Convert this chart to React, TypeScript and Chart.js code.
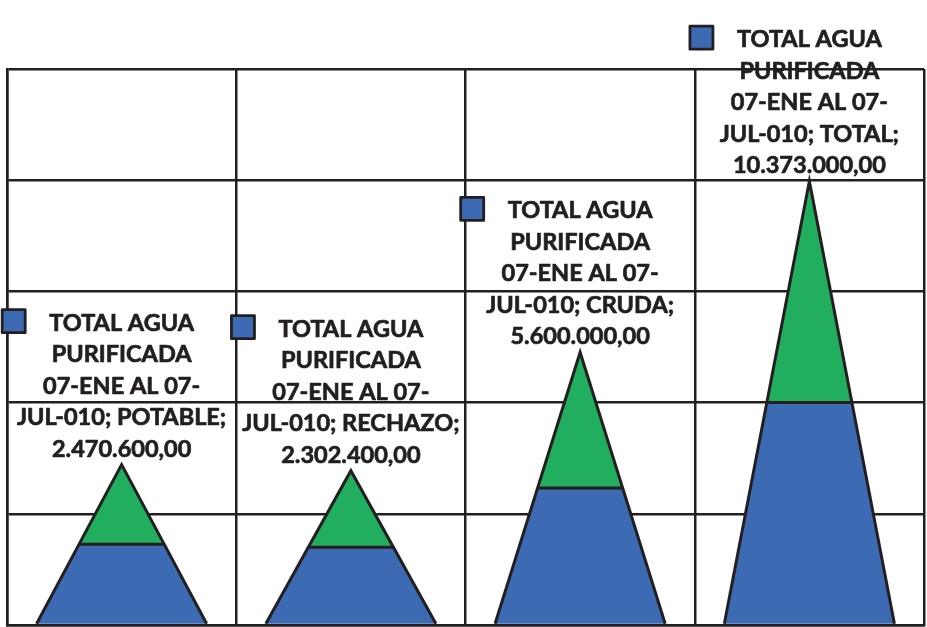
import React, { useEffect, useRef } from 'react';
import { Chart, registerables } from 'chart.js';

Chart.register(...registerables);

// ---- data ----
const categories = ['POTABLE', 'RECHAZO', 'CRUDA', 'TOTAL'];
const seriesNameLines = ['TOTAL AGUA', 'PURIFICADA', '07-ENE AL 07-', 'JUL-010;'];
const values = [2470600, 2302400, 5600000, 10373000];
const axisMin = -2000000;
const axisMax = 13500000;
const axisStep = 3100000;

// ---- style ----
const BLUE = '#3c6bb3';
const GREEN = '#22ae5f';
const INK = '#231f20';
const FONT_FAMILY = 'Lato, "Open Sans", sans-serif';
const FONT = `bold 23.5px ${FONT_FAMILY}`;
const LINE_H = 31.5;

function fmt(v: number): string {
  const s = Math.round(v).toString().replace(/\B(?=(\d{3})+(?!\d))/g, '.');
  return s + ',00';
}

const pyramidPlugin = {
  id: 'pyramids',
  afterDatasetsDraw(chart: any) {
    const meta = chart.getDatasetMeta(0);
    const ctx = chart.ctx;
    meta.data.forEach((bar: any) => {
      const { x, y, base, width } = bar.getProps(['x', 'y', 'base', 'width'], true);
      const half = width / 2;
      const midY = (y + base) / 2;
      const midHalf = half / 2;
      ctx.save();
      ctx.beginPath();
      ctx.moveTo(x - half, base);
      ctx.lineTo(x + half, base);
      ctx.lineTo(x + midHalf, midY);
      ctx.lineTo(x - midHalf, midY);
      ctx.closePath();
      ctx.fillStyle = BLUE;
      ctx.fill();
      ctx.beginPath();
      ctx.moveTo(x - midHalf, midY);
      ctx.lineTo(x + midHalf, midY);
      ctx.lineTo(x, y);
      ctx.closePath();
      ctx.fillStyle = GREEN;
      ctx.fill();
      ctx.lineWidth = 3;
      ctx.strokeStyle = INK;
      ctx.lineJoin = 'miter';
      ctx.miterLimit = 20;
      ctx.beginPath();
      ctx.moveTo(x - half, base);
      ctx.lineTo(x, y);
      ctx.lineTo(x + half, base);
      ctx.stroke();
      ctx.beginPath();
      ctx.moveTo(x - midHalf, midY);
      ctx.lineTo(x + midHalf, midY);
      ctx.stroke();
      ctx.restore();
    });
  },
  afterDraw(chart: any) {
    const meta = chart.getDatasetMeta(0);
    const ctx = chart.ctx;
    ctx.save();
    ctx.font = FONT;
    ctx.textAlign = 'center';
    ctx.textBaseline = 'alphabetic';
    ctx.lineJoin = 'round';
    meta.data.forEach((bar: any, i: number) => {
      const { x, y } = bar.getProps(['x', 'y'], true);
      const lines = [
        seriesNameLines[0],
        seriesNameLines[1],
        seriesNameLines[2],
        `${seriesNameLines[3]} ${categories[i]};`,
        fmt(values[i]),
      ];
      const last = y - 8;
      const n = lines.length;
      lines.forEach((t, k) => {
        const bl = last - (n - 1 - k) * LINE_H;
        ctx.fillStyle = INK;
        ctx.strokeStyle = INK;
        ctx.lineWidth = 0.7;
        ctx.fillText(t, x, bl);
        ctx.strokeText(t, x, bl);
        if (k === 0) {
          const w = ctx.measureText(t).width;
          const kx = x - w / 2 - 24 - 23;
          const ky = bl - 21;
          ctx.fillStyle = BLUE;
          ctx.fillRect(kx, ky, 23, 23);
          ctx.lineWidth = 2.8;
          ctx.strokeStyle = INK;
          ctx.strokeRect(kx, ky, 23, 23);
        }
      });
    });
    ctx.restore();
  },
};

export default function App() {
  const canvasRef = useRef<HTMLCanvasElement | null>(null);

  useEffect(() => {
    let chart: Chart | null = null;
    let cancelled = false;
    const make = () => {
      if (cancelled || !canvasRef.current) return;
      chart = new Chart(canvasRef.current, {
        type: 'bar',
        data: {
          labels: categories,
          datasets: [
            {
              label: seriesNameLines.join(' '),
              data: values,
              backgroundColor: 'rgba(0,0,0,0)',
              borderWidth: 0,
              barPercentage: 0.742,
              categoryPercentage: 1,
              base: axisMin,
            } as any,
          ],
        },
        options: {
          animation: false,
          responsive: true,
          maintainAspectRatio: false,
          layout: { padding: { left: 7, right: 3, top: 69, bottom: 2 } },
          plugins: { legend: { display: false }, tooltip: { enabled: false } },
          scales: {
            x: {
              grid: { display: true, offset: true, color: INK, lineWidth: 2.5, drawTicks: false },
              border: { display: true, color: INK, width: 2.5 },
              ticks: { display: false },
            },
            y: {
              min: axisMin,
              max: axisMax,
              grid: { color: INK, lineWidth: 2.5, drawTicks: false },
              border: { display: true, color: INK, width: 2.5 },
              ticks: { display: false, stepSize: axisStep },
            },
          },
        },
        plugins: [pyramidPlugin],
      });
    };
    const fonts: any = (document as any).fonts;
    if (fonts && fonts.load) {
      fonts.load(FONT).then(make, make);
    } else {
      make();
    }
    return () => {
      cancelled = true;
      if (chart) chart.destroy();
    };
  }, []);

  return (
    <div style={{ position: 'fixed', left: 0, top: 0, width: 927, height: 627, background: '#fff' }}>
      <canvas ref={canvasRef} />
    </div>
  );
}
